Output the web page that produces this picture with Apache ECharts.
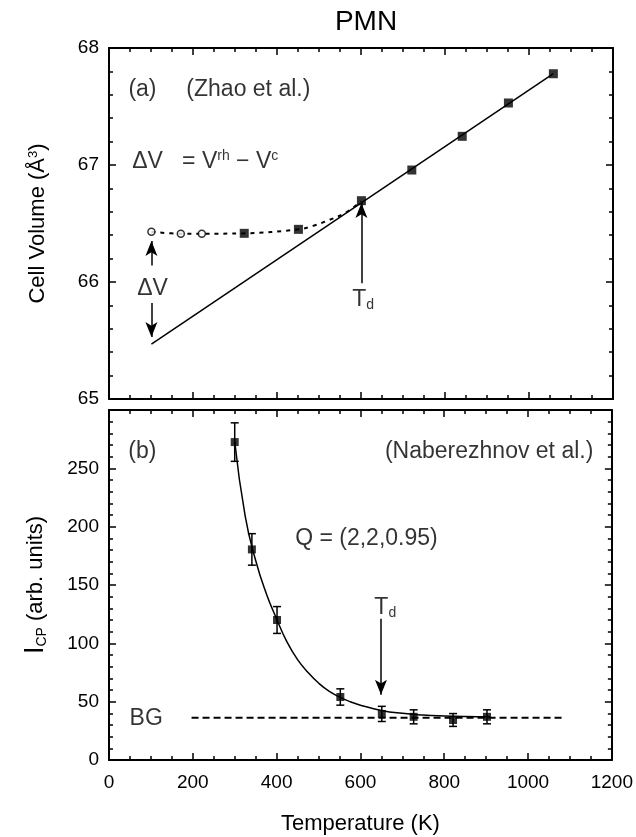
<!DOCTYPE html>
<html><head><meta charset="utf-8">
<script src="https://cdn.jsdelivr.net/npm/echarts@6/dist/echarts.min.js"></script>
<style>html,body{margin:0;padding:0;background:#fff}#c{width:636px;height:837px}</style>
</head><body><div id="c"></div>
<script>
// ---- data ----
const xTickStep = 200;
const volumeSquares = [[322,66.416],[451,66.45],[601,66.695],[721,66.957],[841,67.245],[951,67.53],[1058,67.78]];
const volumeCircles = [[101,66.43],[171,66.413],[221,66.413]];
const cubicFit = [[101,65.47],[1058,67.78]];
const rhombCurve = [[101,66.43],[171,66.413],[221,66.413],[322,66.416],[451,66.45],[486,66.48],[524,66.53],[562,66.59],[601,66.69]];
const cpTemps = [300,341,401,552,651,727,821,902];
const cpValues = [272.5,180.5,120,54,39.5,37,34.3,37];
const cpErrors = [16.5,13.5,11.5,7,6.5,6,5.5,6];
const cpFit = [[300,273],[325,209],[350,171],[375,143],[400,121],[425,101],[450,86],[475,75],[500,66],[525,59],[550,54],[575,50],[600,47],[650,42.5],[700,40],[750,38.6],[800,37.8],[850,37.3],[910,37]];
const bgLine = [[197,36.3],[1088,36.3]];
const tdTop = [[601,65.99],[601,66.675]];
const dvUp = [[101,66.14],[101,66.35]];
const dvDown = [[101,65.82],[101,65.53]];
const tdBottom = [[649,121],[649,56]];

const FONT = "'Liberation Sans', Arial, Helvetica, sans-serif";
const BLACK = '#000';
const richStyles = {
  m: {fontSize: 23, fontFamily: FONT, color: BLACK, lineHeight: 24, verticalAlign: 'bottom'},
  sup: {fontSize: 14, fontFamily: FONT, color: BLACK, lineHeight: 14, verticalAlign: 'top'},
  sub: {fontSize: 14, fontFamily: FONT, color: BLACK, lineHeight: 14, verticalAlign: 'bottom', padding: [12,0,0,0]},
  mt: {fontSize: 23, fontFamily: FONT, color: BLACK, lineHeight: 24, verticalAlign: 'top'}
};

const chart = echarts.init(document.getElementById('c'), null, {renderer: 'canvas'});

function xAxis(grid, pos, labels, name) {
  return {
    type: 'value', gridIndex: grid, position: pos, min: 0, max: 1200, interval: xTickStep,
    axisLine: {show: true, onZero: false, lineStyle: {color: BLACK, width: 2}},
    axisTick: {show: true, inside: true, length: 7, lineStyle: {color: BLACK, width: 1.5}},
    minorTick: {show: true, splitNumber: 4, length: 4, lineStyle: {color: BLACK, width: 1.5}},
    splitLine: {show: false},
    axisLabel: {show: labels, color: BLACK, fontSize: 19, fontFamily: FONT, margin: 13,
      formatter: v => String(v)},
    name: name || '', nameLocation: 'middle', nameGap: 53,
    nameTextStyle: {color: BLACK, fontSize: 22, fontFamily: FONT}
  };
}
function yAxis(grid, pos, min, max, step, minorSplit, labels, name, extra) {
  return Object.assign({
    type: 'value', gridIndex: grid, position: pos, min: min, max: max, interval: step,
    axisLine: {show: true, onZero: false, lineStyle: {color: BLACK, width: 2}},
    axisTick: {show: true, inside: true, length: 7, lineStyle: {color: BLACK, width: 1.5}},
    minorTick: {show: true, splitNumber: minorSplit, length: 4, lineStyle: {color: BLACK, width: 1.5}},
    splitLine: {show: false},
    axisLabel: {show: labels, color: BLACK, fontSize: 19, fontFamily: FONT, margin: 10,
      formatter: v => String(v)},
    name: name || '', nameLocation: 'middle', nameGap: 60,
    nameTextStyle: {color: BLACK, fontSize: 22, fontFamily: FONT, rich: {
      m: {fontSize: 22, fontFamily: FONT, color: BLACK},
      big: {fontSize: 27, fontFamily: FONT, color: BLACK},
      sup: {fontSize: 13, fontFamily: FONT, color: BLACK, verticalAlign: 'top', lineHeight: 13},
      sub: {fontSize: 14, fontFamily: FONT, color: BLACK, verticalAlign: 'bottom', padding: [10,0,0,0]}
    }}
  }, extra || {});
}

function textItem(x, y, text, pos) {
  return {value: [x, y], label: {show: true, position: pos || 'right', distance: 0, formatter: text,
    color: BLACK, fontSize: 23, fontFamily: FONT, rich: richStyles}};
}

const arrowMark = (segments) => ({
  silent: true, symbol: ['none', 'arrow'], symbolSize: [9, 15], animation: false,
  label: {show: false}, lineStyle: {color: BLACK, width: 1.5, type: 'solid'},
  data: segments.map(s => [{coord: s[0]}, {coord: s[1]}])
});

const option = {
  animation: false,
  backgroundColor: '#fff',
  title: {text: 'PMN', left: 361, top: 3, textAlign: 'center',
    textStyle: {color: BLACK, fontSize: 28, fontWeight: 'normal', fontFamily: FONT}},
  grid: [
    {left: 109, top: 48, width: 504, height: 351, containLabel: false},
    {left: 109, top: 410, width: 504, height: 350, containLabel: false}
  ],
  xAxis: [
    xAxis(0, 'bottom', false),
    xAxis(0, 'top', false),
    xAxis(1, 'bottom', true, 'Temperature (K)'),
    xAxis(1, 'top', false)
  ],
  yAxis: [
    yAxis(0, 'left', 65, 68, 1, 5, true, '{m|Cell Volume (Å}{sup|3}{m|)}'),
    yAxis(0, 'right', 65, 68, 1, 5, false),
    yAxis(1, 'left', 0, 300, 50, 5, true, '{big|I}{sub|CP}{m| (arb. units)}', {axisLabel: {show: true, showMaxLabel: false, color: BLACK, fontSize: 19, fontFamily: FONT, margin: 10}}),
    yAxis(1, 'right', 0, 300, 50, 5, false)
  ],
  series: [
    // ---- panel (a) ----
    {type: 'line', xAxisIndex: 0, yAxisIndex: 0, data: cubicFit, symbol: 'none',
      lineStyle: {color: BLACK, width: 1.5}, z: 2, markLine: arrowMark([tdTop, dvUp, dvDown])},
    {type: 'line', xAxisIndex: 0, yAxisIndex: 0, data: rhombCurve, symbol: 'none', smooth: 0.4,
      lineStyle: {color: BLACK, width: 2, type: [4, 5]}, z: 2},
    {type: 'scatter', xAxisIndex: 0, yAxisIndex: 0, data: volumeSquares, symbol: 'rect', symbolSize: 9,
      itemStyle: {color: BLACK}, z: 4},
    {type: 'scatter', xAxisIndex: 0, yAxisIndex: 0, data: volumeCircles, symbol: 'circle', symbolSize: 7,
      itemStyle: {color: '#fff', borderColor: BLACK, borderWidth: 1.5}, z: 4},
    {type: 'scatter', xAxisIndex: 0, yAxisIndex: 0, symbolSize: 1, itemStyle: {color: 'transparent'}, silent: true, z: 5,
      data: [
        textItem(45, 67.64, '(a)'),
        textItem(183, 67.64, '(Zhao et al.)'),
        textItem(54, 67.03, '{m|ΔV}{m|   = V}{sup|rh}{m| − V}{sup|c}'),
        textItem(103.6, 65.946, 'ΔV', 'inside'),
        textItem(578, 65.846, '{mt|T}{sub|d}')
      ]},
    // ---- panel (b) ----
    {type: 'line', xAxisIndex: 2, yAxisIndex: 2, data: cpFit, symbol: 'none', smooth: 0.5,
      lineStyle: {color: BLACK, width: 1.5}, z: 2, markLine: arrowMark([tdBottom])},
    {type: 'line', xAxisIndex: 2, yAxisIndex: 2, data: bgLine, symbol: 'none',
      lineStyle: {color: BLACK, width: 2, type: [7, 4]}, z: 2},
    {type: 'custom', xAxisIndex: 2, yAxisIndex: 2, z: 3,
      data: cpTemps.map((t, i) => [t, cpValues[i] - cpErrors[i], cpValues[i] + cpErrors[i]]),
      encode: {x: 0, y: [1, 2]},
      renderItem: function (params, api) {
        const lo = api.coord([api.value(0), api.value(1)]);
        const hi = api.coord([api.value(0), api.value(2)]);
        const w = 4, st = {stroke: BLACK, lineWidth: 1.5};
        return {type: 'group', children: [
          {type: 'line', shape: {x1: lo[0], y1: lo[1], x2: hi[0], y2: hi[1]}, style: st},
          {type: 'line', shape: {x1: lo[0] - w, y1: lo[1], x2: lo[0] + w, y2: lo[1]}, style: st},
          {type: 'line', shape: {x1: hi[0] - w, y1: hi[1], x2: hi[0] + w, y2: hi[1]}, style: st}
        ]};
      }},
    {type: 'scatter', xAxisIndex: 2, yAxisIndex: 2, data: cpTemps.map((t, i) => [t, cpValues[i]]),
      symbol: 'rect', symbolSize: 8, itemStyle: {color: BLACK}, z: 4},
    {type: 'scatter', xAxisIndex: 2, yAxisIndex: 2, symbolSize: 1, itemStyle: {color: 'transparent'}, silent: true, z: 5,
      data: [
        textItem(45, 264, '(b)'),
        textItem(1157, 264, '(Naberezhnov et al.)', 'left'),
        textItem(443, 190, 'Q = (2,2,0.95)'),
        textItem(632, 130, '{mt|T}{sub|d}'),
        textItem(48, 35.7, 'BG')
      ]}
  ]
};
chart.setOption(option);
</script>
</body></html>
